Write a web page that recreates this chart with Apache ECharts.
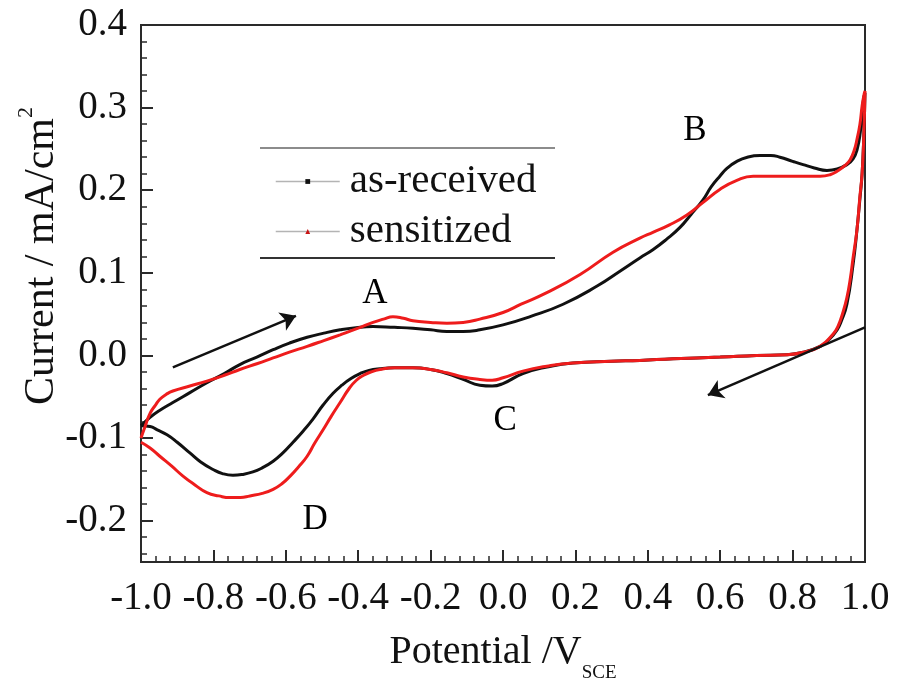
<!DOCTYPE html>
<html>
<head>
<meta charset="utf-8">
<script src="https://cdn.jsdelivr.net/npm/echarts@6/dist/echarts.min.js"></script>
<style>html,body{margin:0;padding:0;background:#fff}#c{width:898px;height:690px}</style>
</head>
<body>
<div id="c"></div>
<script>
// ---- data ----
var seriesNames = ['as-received', 'sensitized'];

// as-received: forward sweep (-1.0 -> 1.0) then reverse sweep (1.0 -> -1.0)
var asReceivedForward = [
  [-1.0,-0.085],[-0.975,-0.075],[-0.95,-0.067],[-0.912,-0.057],[-0.865,-0.045],[-0.818,-0.033],
  [-0.77,-0.022],[-0.727,-0.011],[-0.68,-0.002],[-0.635,0.007],[-0.59,0.015],[-0.541,0.022],
  [-0.495,0.027],[-0.45,0.031],[-0.40,0.034],[-0.359,0.035],[-0.30,0.034],[-0.249,0.033],
  [-0.2,0.031],[-0.155,0.029],[-0.11,0.029],[-0.064,0.031],[0.0,0.037],[0.075,0.047],
  [0.166,0.062],[0.26,0.084],[0.323,0.102],[0.378,0.118],[0.414,0.128],[0.45,0.140],
  [0.489,0.155],[0.52,0.171],[0.552,0.188],[0.575,0.204],[0.599,0.217],[0.62,0.227],
  [0.646,0.235],[0.675,0.240],[0.71,0.242],[0.74,0.242],[0.765,0.240],[0.8,0.235],
  [0.829,0.231],[0.86,0.227],[0.895,0.224],[0.925,0.226],[0.95,0.231],[0.967,0.238],
  [0.978,0.249],[0.987,0.27],[0.992,0.294],[0.996,0.31],[1.0,0.318]
];
var asReceivedReverse = [
  [0.997,0.27],[0.992,0.22],[0.986,0.19],[0.978,0.153],[0.967,0.110],[0.95,0.062],[0.935,0.042],
  [0.923,0.031],[0.9,0.019],[0.876,0.011],[0.83,0.004],[0.785,0.001],[0.7,0.0],[0.6,-0.002],
  [0.47,-0.004],[0.378,-0.006],[0.3,-0.007],[0.193,-0.009],[0.121,-0.014],[0.055,-0.022],
  [0.0,-0.034],[-0.03,-0.037],[-0.064,-0.036],[-0.11,-0.029],[-0.155,-0.022],[-0.2,-0.017],
  [-0.249,-0.015],[-0.30,-0.015],[-0.34,-0.016],[-0.37,-0.018],[-0.395,-0.022],[-0.42,-0.028],
  [-0.445,-0.036],[-0.47,-0.046],[-0.497,-0.060],[-0.525,-0.077],[-0.553,-0.092],[-0.58,-0.105],
  [-0.608,-0.118],[-0.635,-0.128],[-0.665,-0.136],[-0.691,-0.141],[-0.72,-0.144],[-0.746,-0.145],
  [-0.775,-0.143],[-0.801,-0.138],[-0.835,-0.129],[-0.865,-0.118],[-0.9,-0.105],[-0.928,-0.096],
  [-0.955,-0.090],[-0.975,-0.086],[-1.0,-0.085]
];

// sensitized
var sensitizedForward = [
  [-1.0,-0.100],[-0.988,-0.085],[-0.975,-0.070],[-0.96,-0.060],[-0.948,-0.053],[-0.93,-0.047],
  [-0.912,-0.043],[-0.865,-0.037],[-0.818,-0.031],[-0.77,-0.024],[-0.727,-0.017],[-0.68,-0.010],
  [-0.635,-0.003],[-0.59,0.004],[-0.541,0.011],[-0.495,0.018],[-0.45,0.025],[-0.40,0.033],
  [-0.359,0.040],[-0.33,0.044],[-0.304,0.047],[-0.275,0.045],[-0.249,0.042],[-0.2,0.040],
  [-0.155,0.039],[-0.11,0.040],[-0.064,0.044],[0.0,0.052],[0.05,0.062],[0.121,0.076],
  [0.213,0.098],[0.304,0.125],[0.378,0.142],[0.414,0.149],[0.46,0.158],[0.508,0.170],
  [0.552,0.185],[0.599,0.201],[0.646,0.212],[0.691,0.217],[0.74,0.217],[0.785,0.217],
  [0.83,0.217],[0.876,0.217],[0.905,0.219],[0.923,0.223],[0.945,0.230],[0.959,0.237],
  [0.97,0.248],[0.978,0.262],[0.986,0.28],[0.992,0.302],[0.997,0.315],[1.0,0.320]
];
var sensitizedReverse = [
  [0.997,0.27],[0.992,0.22],[0.986,0.193],[0.978,0.153],[0.967,0.118],[0.959,0.092],[0.95,0.070],
  [0.939,0.052],[0.925,0.035],[0.912,0.026],[0.876,0.011],[0.83,0.004],[0.785,0.001],[0.7,0.0],
  [0.6,-0.002],[0.47,-0.004],[0.378,-0.006],[0.3,-0.007],[0.193,-0.009],[0.121,-0.013],
  [0.055,-0.019],[0.0,-0.027],[-0.03,-0.030],[-0.064,-0.029],[-0.11,-0.026],[-0.155,-0.021],
  [-0.2,-0.017],[-0.249,-0.015],[-0.30,-0.015],[-0.34,-0.017],[-0.365,-0.020],[-0.385,-0.024],
  [-0.405,-0.030],[-0.425,-0.040],[-0.45,-0.057],[-0.475,-0.074],[-0.497,-0.090],[-0.52,-0.106],
  [-0.541,-0.122],[-0.565,-0.135],[-0.588,-0.146],[-0.61,-0.155],[-0.635,-0.162],[-0.665,-0.167],
  [-0.699,-0.170],[-0.725,-0.172],[-0.754,-0.172],[-0.785,-0.170],[-0.818,-0.166],[-0.85,-0.157],
  [-0.884,-0.146],[-0.915,-0.134],[-0.948,-0.122],[-0.975,-0.112],[-1.0,-0.105]
];

// axis ticks
var xMin = -1.0, xMax = 1.0, xInterval = 0.2;
var yMin = -0.25, yMax = 0.4;
var yMajorTicks = [-0.2, -0.1, 0.0, 0.1, 0.2, 0.3, 0.4];
var yMinorTicks = [-0.24,-0.22,-0.18,-0.16,-0.14,-0.12,-0.08,-0.06,-0.04,-0.02,0.02,0.04,0.06,0.08,
                   0.12,0.14,0.16,0.18,0.22,0.24,0.26,0.28,0.32,0.34,0.36,0.38];

// annotations and sweep-direction arrows
var peakNames = ['A', 'B', 'C', 'D'];
var peakPositions = [[-0.354, 0.075], [0.530, 0.272], [0.006, -0.079], [-0.519, -0.199]];
var arrowForward = [[-0.912, -0.0145], [-0.572, 0.048]];
var arrowReverse = [[1.0, 0.034], [0.566, -0.048]];

var xTitle = 'Potential /V';
var xTitleSub = 'SCE';
var yTitle = 'Current / mA/cm';
var yTitleSup = '2';

// ---- chart ----
var FONT = '"Liberation Serif", "Times New Roman", serif';
var chart = echarts.init(document.getElementById('c'), null, {renderer: 'canvas'});

function fmt1(v) { var s = Number(v).toFixed(1); return s === '-0.0' ? '0.0' : s; }

var option = {
  backgroundColor: '#ffffff',
  animation: false,
  grid: {left: 141, right: 33, top: 25, bottom: 128, show: true, borderColor: '#2a2a2a', borderWidth: 2, backgroundColor: 'transparent'},
  legend: {
    orient: 'vertical', left: 275, top: 161, padding: 0,
    itemWidth: 64, itemHeight: 6, itemGap: 9,
    data: seriesNames,
    textStyle: {fontFamily: FONT, fontSize: 41, color: '#111', padding: [0, 0, 0, 5]},
    lineStyle: {color: '#b4b4b4', width: 1.5},
    selectedMode: false
  },
  xAxis: {
    type: 'value', min: xMin, max: xMax, interval: xInterval,
    axisLine: {onZero: false, lineStyle: {color: '#2a2a2a', width: 2}},
    axisTick: {inside: true, length: 12, lineStyle: {color: '#2a2a2a', width: 2}},
    minorTick: {show: true, splitNumber: 5, length: 6, lineStyle: {color: '#2a2a2a', width: 1.5}},
    splitLine: {show: false},
    axisLabel: {fontFamily: FONT, fontSize: 39, color: '#111', margin: 17, formatter: fmt1, showMinLabel: true, showMaxLabel: true},
    name: xTitle + '{sub|' + xTitleSub + '}',
    nameLocation: 'middle', nameGap: 58,
    nameTextStyle: {fontFamily: FONT, fontSize: 40, color: '#111', lineHeight: 60,
      rich: {sub: {fontFamily: FONT, fontSize: 19, color: '#111', lineHeight: 4, verticalAlign: 'bottom'}}}
  },
  yAxis: [{
    type: 'value', min: yMin, max: yMax, position: 'left',
    axisLine: {onZero: false, lineStyle: {color: '#2a2a2a', width: 2}},
    axisTick: {inside: true, length: 12, lineStyle: {color: '#2a2a2a', width: 2}, customValues: yMajorTicks},
    splitLine: {show: false},
    axisLabel: {fontFamily: FONT, fontSize: 39, color: '#111', margin: 14, formatter: fmt1, customValues: yMajorTicks}
  }, {
    type: 'value', min: yMin, max: yMax, position: 'left', offset: 0,
    axisLine: {show: false, onZero: false},
    axisTick: {inside: true, length: 6, lineStyle: {color: '#2a2a2a', width: 1.5}, customValues: yMinorTicks},
    splitLine: {show: false},
    axisLabel: {show: false}
  }],
  graphic: [
    {type: 'line', shape: {x1: 260, y1: 148, x2: 555, y2: 148}, style: {stroke: '#8c8c8c', lineWidth: 2}, z: 100},
    {type: 'line', shape: {x1: 260, y1: 258, x2: 555, y2: 258}, style: {stroke: '#333', lineWidth: 2}, z: 100},
    {type: 'text', x: 42, y: 256, rotation: Math.PI / 2,
      style: {text: yTitle + '{sup|' + yTitleSup + '}', fontFamily: FONT, fontSize: 42, fill: '#111',
        align: 'center', verticalAlign: 'middle', lineHeight: 54,
        rich: {sup: {fontFamily: FONT, fontSize: 22, fill: '#111', lineHeight: 22, verticalAlign: 'top'}}}}
  ],
  series: [
    {
      name: seriesNames[0], type: 'line', xAxisIndex: 0, yAxisIndex: 0,
      data: asReceivedForward.concat(asReceivedReverse),
      smooth: 0.5, showSymbol: false, symbol: 'rect', symbolSize: 4,
      lineStyle: {color: '#111', width: 3}, itemStyle: {color: '#111'}, z: 3
    },
    {
      name: seriesNames[1], type: 'line', xAxisIndex: 0, yAxisIndex: 0,
      data: sensitizedForward.concat(sensitizedReverse),
      smooth: 0.5, showSymbol: false, symbol: 'triangle', symbolSize: 5,
      lineStyle: {color: '#ee1c1c', width: 3}, itemStyle: {color: '#c81414'}, z: 4
    },
    {
      name: 'arrows', type: 'lines', coordinateSystem: 'cartesian2d', xAxisIndex: 0, yAxisIndex: 0,
      data: [{coords: arrowForward}, {coords: arrowReverse}],
      symbol: ['none', 'arrow'], symbolSize: 15, silent: true,
      lineStyle: {color: '#111', width: 2.5, opacity: 1}, z: 5,
      markPoint: {
        silent: true, symbol: 'circle', symbolSize: 0, animation: false,
        itemStyle: {color: '#000'},
        label: {show: true, position: 'inside', formatter: '{b}', fontFamily: FONT, fontSize: 35, color: '#000', textBorderWidth: 0},
        data: peakNames.map(function (n, i) { return {name: n, coord: peakPositions[i]}; })
      }
    }
  ]
};
chart.setOption(option);
</script>
</body>
</html>
